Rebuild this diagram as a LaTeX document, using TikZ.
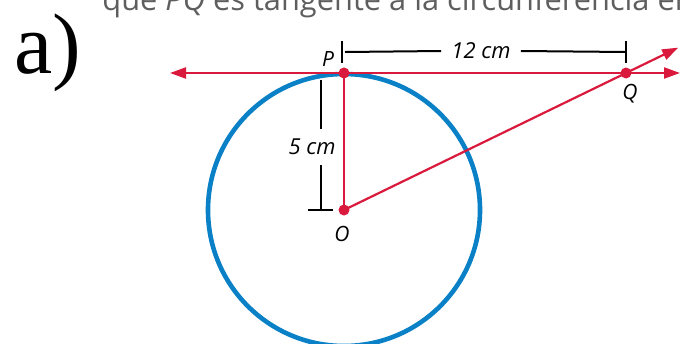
\documentclass[tikz,border=0pt]{standalone}
\usepackage{fontspec}
\setmainfont{Open Sans}
\newfontfamily\partfont{Liberation Serif}
\usetikzlibrary{arrows.meta,calc}
\definecolor{TanRed}{HTML}{DA1A3C}
\definecolor{CircBlue}{HTML}{0A80C6}
\definecolor{HeadGray}{HTML}{5E5E5E}

\begin{document}
\begin{tikzpicture}[x=0.5pt, y=-0.5pt,
  redline/.style={TanRed, line width=1.1pt},
  redarrow/.style={redline, -{Triangle[length=8pt,width=5.5pt]}},
  dimline/.style={black, line width=1pt},
  ptdot/.style={circle, fill=TanRed, inner sep=0pt, minimum size=5.5pt},
  ptlabel/.style={font=\itshape\fontsize{10.5}{12}\selectfont, inner sep=0pt},
  dimlabel/.style={font=\itshape\fontsize{11}{13}\selectfont, inner xsep=5pt, inner ysep=3pt}]
  \useasboundingbox (0,0) rectangle (680,343);

  % heading, cut off at the top
  \node[anchor=base west, inner sep=0pt, text=HeadGray, font=\fontsize{15.4}{18}\selectfont]
    (head) at (102,10) {que \textit{PQ} es tangente a la circunferencia en};
  \node[anchor=base west, inner sep=0pt, font=\partfont\fontsize{43}{48}\selectfont]
    (part) at (14,73) {a)};

  % points
  \coordinate (O) at (344,210);
  \coordinate (P) at (344,73);
  \coordinate (Q) at (626,73);
  \coordinate (tl) at (170,73);
  \coordinate (tr) at (680,73);
  \coordinate (sr) at ($(O)!1.185!(Q)$);

  \draw[CircBlue, line width=2.3pt] (O) circle[radius=136];

  \draw[redarrow] (P) -- (tl);
  \draw[redarrow] (P) -- (tr);
  \draw[redline] (O) -- (P);
  \draw[redarrow] (O) -- (sr);

  \node[ptdot] (dotO) at (O) {};
  \node[ptdot] (dotP) at (P) {};
  \node[ptdot] (dotQ) at (Q) {};

  \node[ptlabel] (labO) at (342,234) {O};
  \node[ptlabel] (labP) at (328,59) {P};
  \node[ptlabel] (labQ) at (630,94) {Q};

  % 12 cm
  \node[dimlabel] (twelve) at (481,51) {12 cm};
  \coordinate (hl) at (342,52);
  \coordinate (hr) at (626,52);
  \draw[dimline] ($(hl)+(0,-11)$) -- ($(hl)+(0,11)$);
  \draw[dimline] ($(hr)+(0,-11)$) -- ($(hr)+(0,11)$);
  \draw[dimline] ($(hl)+(3,0)$) -- (twelve.west);
  \draw[dimline] (twelve.east) -- (hr);

  % 5 cm
  \node[dimlabel, inner ysep=5pt] (five) at (312,147) {5 cm};
  \coordinate (vt) at (321,80);
  \coordinate (vb) at (321,210);
  \draw[dimline] (vt) -- (vt |- five.north);
  \draw[dimline] (vb |- five.south) -- (vb);
  \draw[dimline] ($(vb)+(-13,0)$) -- ($(vb)+(12,0)$);
\end{tikzpicture}
\end{document}
